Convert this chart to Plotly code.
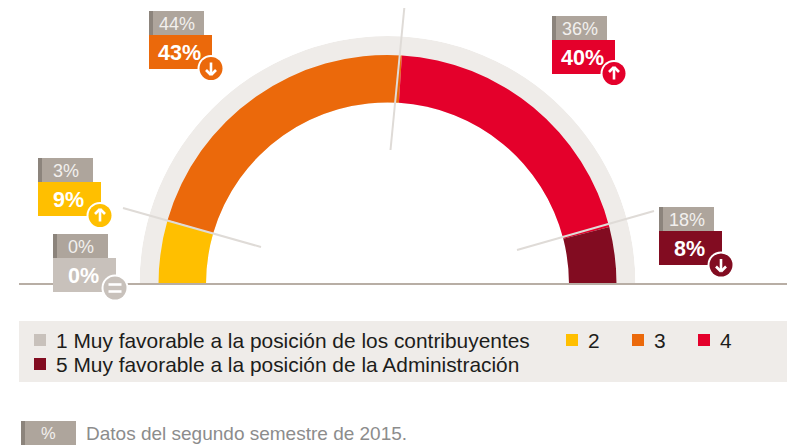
import math
import plotly.graph_objects as go

W, H = 787, 445
categories = ["1 Muy favorable a la posición de los contribuyentes", "2", "3", "4",
              "5 Muy favorable a la posición de la Administración"]
values = [0, 9, 43, 40, 8]
previous = [0, 3, 44, 36, 18]
directions = ["=", "up", "down", "up", "down"]
colors = ["#C8C1BB", "#FFBF00", "#EB690B", "#E4002B", "#820C21"]
footnote = "Datos del segundo semestre de 2015."

# Layout in pixels
CX, CY = 387.5, 284
R_IN, R_OUT, R_BG = 181.5, 229, 248
box_xy = [(53, 234), (38, 158), (149, 11), (552, 16), (659, 207)]
badge_dy = [54, 57.5, 57.5, 57.5, 58]
legend_xy = [(34, 334), (566, 334), (632, 334), (698, 334), (34, 358)]
separators = [((123, 208), (261, 247)), ((404.3, 8), (390.5, 150)), ((517, 250), (654, 211))]
FONT = "Liberation Sans"


def px(x):
    return x / W


def py(y):
    return 1 - y / H


shapes = []
annots = []


def rect(x0, y0, x1, y1, color, layer="above"):
    shapes.append(dict(type="rect", xref="paper", yref="paper", x0=px(x0), x1=px(x1),
                       y0=py(y0), y1=py(y1), fillcolor=color, line_width=0, layer=layer))


def line(x0, y0, x1, y1, color, width, layer="above"):
    shapes.append(dict(type="line", xref="paper", yref="paper", x0=px(x0), x1=px(x1),
                       y0=py(y0), y1=py(y1), line=dict(color=color, width=width), layer=layer))


def text(x, y, s, size, color, anchor="left", bold=False):
    annots.append(dict(xref="paper", yref="paper", x=px(x), y=py(y), text=f"<b>{s}</b>" if bold else s,
                       showarrow=False, xanchor=anchor, yanchor="middle",
                       font=dict(family=FONT, size=size, color=color), borderpad=0, borderwidth=0))


def circle(cx, cy, r, color):
    shapes.append(dict(type="circle", xref="paper", yref="paper", x0=px(cx - r), x1=px(cx + r),
                       y0=py(cy - r), y1=py(cy + r), fillcolor=color, line_width=0, layer="above"))


def glyph(cx, cy, kind):
    if kind == "=":
        line(cx - 6.5, cy - 3.5, cx + 6.5, cy - 3.5, "#FFFFFF", 2.6)
        line(cx - 6.5, cy + 3.5, cx + 6.5, cy + 3.5, "#FFFFFF", 2.6)
        return
    s = -1 if kind == "up" else 1
    line(cx, cy - s * 6, cx, cy + s * 6, "#FFFFFF", 2.6)
    line(cx - 5, cy + s * 1.5, cx, cy + s * 6.5, "#FFFFFF", 2.6)
    line(cx + 5, cy + s * 1.5, cx, cy + s * 6.5, "#FFFFFF", 2.6)


# Half ring, through polar axes
total = sum(values)
thetas, widths, cum = [], [], 0
for v in values:
    w = v / total * 180
    thetas.append(cum + w / 2)
    widths.append(w)
    cum += w

fig = go.Figure()
fig.add_trace(go.Barpolar(theta=[90], width=[180], base=[R_IN], r=[R_BG - R_IN],
                          marker=dict(color="#EFECE9", line_width=0), hoverinfo="skip"))
fig.add_trace(go.Barpolar(theta=thetas, width=widths, base=[R_IN] * 5, r=[R_OUT - R_IN] * 5,
                          marker=dict(color=colors, line_width=0), text=categories, hoverinfo="text"))

# Legend band
rect(19, 321, W, 382, "#EFECE9", "below")
for (x, y), c, name in zip(legend_xy, colors, categories):
    rect(x, y, x + 12, y + 12, c, "below")
    text(x + 22, y + 6.5, name, 20.9, "#1D1D1B")

# Base line
line(19, 284, W, 284, "#B8AEA5", 2)

# Separators
for (a, b) in separators:
    line(a[0], a[1], b[0], b[1], "#DFDBD7", 2)

# Value boxes
for (x, y), v, p, d, c, dy in zip(box_xy, values, previous, directions, colors, badge_dy):
    rect(x, y, x + 55, y + 25, "#AEA59C")
    rect(x, y, x + 4, y + 25, "#8C847C")
    text(x + 28, y + 13, f"{p}%", 18, "#F2F0EE", "center")
    rect(x, y + 24, x + 63, y + 58, c)
    text(x + 30.5, y + 42, f"{v}%", 21.5, "#FFFFFF", "center", True)
    cx, cy = x + 62, y + dy
    circle(cx, cy, 13.5, "#FFFFFF")
    circle(cx, cy, 11.5, c)
    glyph(cx, cy, d)

# Footnote
rect(21, 421, 76, H, "#AEA59C")
rect(21, 421, 25, H, "#8C847C")
text(48, 433, "%", 16.5, "#F2F0EE", "center")
text(86, 433, footnote, 19, "#8C8C8C")

fig.update_layout(
    width=W, height=H, margin=dict(l=0, r=0, t=0, b=0),
    paper_bgcolor="#FFFFFF", showlegend=False,
    shapes=shapes, annotations=annots,
    polar=dict(
        domain=dict(x=[px(CX - R_BG), px(CX + R_BG)], y=[py(CY), py(CY - R_BG)]),
        sector=[0, 180], barmode="overlay", bgcolor="rgba(0,0,0,0)",
        radialaxis=dict(visible=False, range=[0, R_BG]),
        angularaxis=dict(visible=False, direction="clockwise", rotation=180, thetaunit="degrees"),
    ),
)
fig.write_html("out.html", config=dict(displayModeBar=False),
               post_script="document.body.style.margin='0';document.body.style.overflow='hidden';")
